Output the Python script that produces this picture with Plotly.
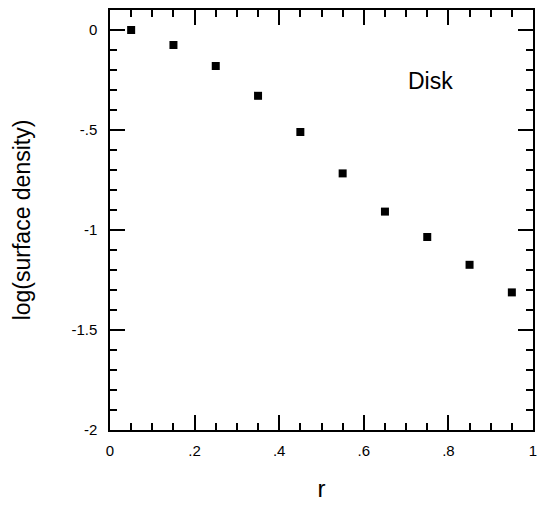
import plotly.graph_objects as go

r_values = [0.05, 0.15, 0.25, 0.35, 0.45, 0.55, 0.65, 0.75, 0.85, 0.95]
log_density = [0.0, -0.075, -0.18, -0.329, -0.51, -0.717, -0.908, -1.035, -1.174, -1.312]

x_tickvals = [0, 0.2, 0.4, 0.6, 0.8, 1.0]
x_ticktext = ["0", ".2", ".4", ".6", ".8", "1"]
y_tickvals = [0, -0.5, -1, -1.5, -2]
y_ticktext = ["0", "-.5", "-1", "-1.5", "-2"]

FONT = "Liberation Sans, Arial, Helvetica, sans-serif"

fig = go.Figure()
fig.add_trace(go.Scatter(
    x=r_values, y=log_density, mode="markers",
    marker=dict(symbol="square", size=8, color="black", line=dict(width=0)),
    showlegend=False,
))

axis_common = dict(
    showline=True, linecolor="black", linewidth=1.5,
    mirror="allticks", ticks="inside", ticklen=15, tickwidth=1.5, tickcolor="black",
    showgrid=False, zeroline=False,
    tickfont=dict(family=FONT, size=15, color="black"),
)

fig.update_xaxes(
    range=[0, 1], tickvals=x_tickvals, ticktext=x_ticktext,
    minor=dict(ticks="inside", ticklen=7, tickwidth=1.5, tickcolor="black", dtick=0.05, showgrid=False),
    ticklabelstandoff=6,
    title=dict(text="r", font=dict(family=FONT, size=24, color="black"), standoff=22),
    **axis_common,
)
fig.update_yaxes(
    range=[-2, 0.1], tickvals=y_tickvals, ticktext=y_ticktext,
    minor=dict(ticks="inside", ticklen=7, tickwidth=1.5, tickcolor="black", dtick=0.1, tick0=0, showgrid=False),
    ticklabelstandoff=8,
    title=dict(text="log(surface density)", font=dict(family=FONT, size=23, color="black"), standoff=34),
    **axis_common,
)

fig.add_annotation(
    x=0.757, y=-0.255, xref="x", yref="y", text="Disk", showarrow=False,
    font=dict(family=FONT, size=23, color="black"), xanchor="center", yanchor="middle",
)

fig.update_layout(
    width=545, height=506,
    margin=dict(l=109.5, r=10, t=8, b=70),
    paper_bgcolor="white", plot_bgcolor="white",
)

fig.write_html("out.html")
